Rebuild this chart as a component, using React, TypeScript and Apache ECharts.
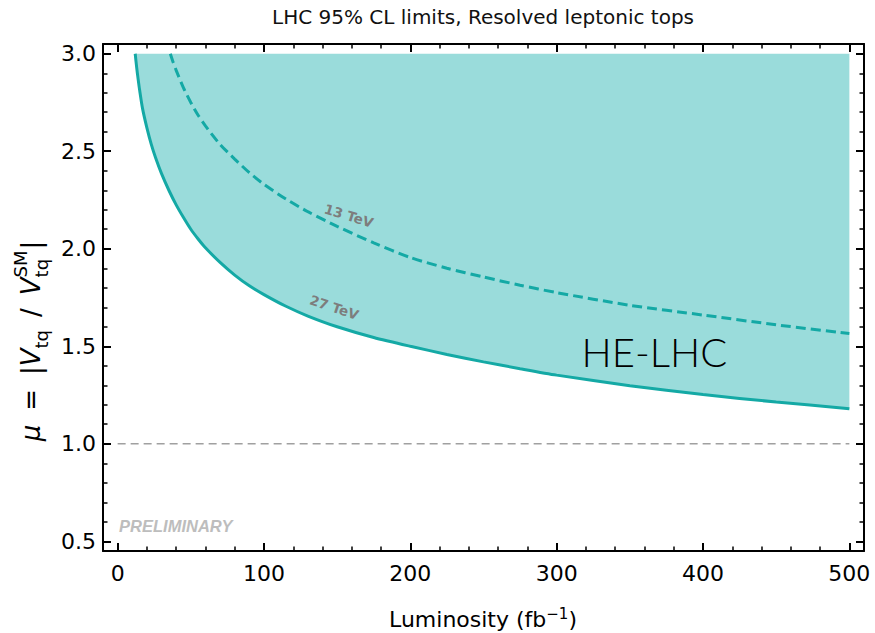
import React, { useEffect, useRef } from 'react';
import * as echarts from 'echarts';

// Expected 95% CL upper limits on mu versus integrated luminosity (fb^-1)
const lumi27 = [12, 13, 14, 15, 17, 20, 23, 26, 30, 35, 40, 45, 50, 55, 60, 70, 80, 90, 100, 115, 130, 150, 175, 200, 225, 250, 275, 300, 350, 400, 450, 500];
const mu27 = [3.0, 2.93, 2.87, 2.815, 2.72, 2.62, 2.535, 2.465, 2.385, 2.3, 2.225, 2.16, 2.1, 2.05, 2.005, 1.93, 1.865, 1.81, 1.765, 1.705, 1.655, 1.6, 1.545, 1.5, 1.458, 1.42, 1.385, 1.352, 1.298, 1.252, 1.214, 1.18];
const lumi13 = [36, 38, 40, 45, 50, 55, 60, 70, 80, 90, 100, 115, 130, 150, 175, 200, 225, 250, 275, 300, 350, 400, 450, 500];
const mu13 = [3.0, 2.955, 2.915, 2.825, 2.75, 2.685, 2.63, 2.535, 2.46, 2.39, 2.33, 2.255, 2.19, 2.115, 2.03, 1.955, 1.9, 1.855, 1.813, 1.775, 1.71, 1.66, 1.61, 1.565];

// Upper edge of the excluded band and the Standard Model reference
const MU_CEIL = 3.0;
const SM_LUMI = [0, 500];
const SM_MU = 1.0;

const X_RANGE = [-10, 510];
const Y_RANGE = [0.45, 3.05];

const TEAL = '#14a9a5';
const BAND = '#9adcdb';
const FONT = 'DejaVu Sans';
const SMOOTH = 0.25;

export default function App() {
  const ref = useRef<HTMLDivElement>(null);

  useEffect(() => {
    document.body.style.margin = '0';
    const el = ref.current as HTMLDivElement;
    const chart = echarts.init(el, null, { renderer: 'svg' });

    const ctx = document.createElement('canvas').getContext('2d') as CanvasRenderingContext2D;
    const measure = (t: string, size: number, style = 'normal') => {
      ctx.font = `${style} ${size}px "${FONT}"`;
      return ctx.measureText(t).width;
    };

    const axisLine = { show: true, onZero: false, lineStyle: { color: '#000', width: 2 } };
    const axisTick = { show: true, inside: true, length: 8, lineStyle: { color: '#000', width: 2 } };
    const minorTick = { show: true, splitNumber: 5, length: 4.5, lineStyle: { color: '#000', width: 1.5 } };
    const tickLabel = {
      fontSize: 22,
      color: '#000',
      fontFamily: FONT,
      showMinLabel: false,
      showMaxLabel: false,
    };

    const line27 = lumi27.map((l, i) => [l, mu27[i]]);
    const line13 = lumi13.map((l, i) => [l, mu13[i]]);

    chart.setOption({
      animation: false,
      grid: { left: 103, right: 11, top: 44, bottom: 82 },
      xAxis: [
        {
          type: 'value', min: X_RANGE[0], max: X_RANGE[1], position: 'bottom',
          axisLine, axisTick, minorTick, splitLine: { show: false },
          axisLabel: { ...tickLabel, margin: 11 },
        },
        {
          type: 'value', min: X_RANGE[0], max: X_RANGE[1], position: 'top',
          axisLine, axisTick, minorTick, splitLine: { show: false },
          axisLabel: { show: false },
        },
      ],
      yAxis: [
        {
          type: 'value', min: Y_RANGE[0], max: Y_RANGE[1], position: 'left',
          axisLine, axisTick, minorTick, splitLine: { show: false },
          axisLabel: { ...tickLabel, margin: 7, formatter: (v: number) => v.toFixed(1) },
        },
        {
          type: 'value', min: Y_RANGE[0], max: Y_RANGE[1], position: 'right',
          axisLine, axisTick, minorTick, splitLine: { show: false },
          axisLabel: { show: false },
        },
      ],
      series: [
        {
          // excluded region: from the 27 TeV limit up to mu = 3
          type: 'line', data: line27, smooth: SMOOTH, showSymbol: false, z: 1,
          lineStyle: { width: 0, opacity: 0 }, areaStyle: { color: BAND, opacity: 1, origin: MU_CEIL },
          silent: true,
        },
        {
          type: 'line', data: SM_LUMI.map((l) => [l, SM_MU]), showSymbol: false, z: 2,
          lineStyle: { color: '#a0a0a0', width: 1.5, type: [8, 5] }, silent: true,
        },
        {
          type: 'line', name: '27 TeV', data: line27, smooth: SMOOTH, showSymbol: false, z: 3,
          lineStyle: { color: TEAL, width: 3 }, silent: true,
        },
        {
          type: 'line', name: '13 TeV', data: line13, smooth: SMOOTH, showSymbol: false, z: 3,
          lineStyle: { color: TEAL, width: 3, type: [10, 5] }, silent: true,
        },
      ],
    });

    const px = (x: number, y: number) => chart.convertToPixel({ gridIndex: 0 }, [x, y]) as number[];
    const p13 = px(158, 2.17);
    const p27 = px(148, 1.7);
    const pHE = px(317, 1.37);
    const pPre = px(1, 0.58);

    // y-axis title: mu = |V_tq / V_tq^SM| laid out along a rotated baseline
    const main = 26;
    const small = 18;
    const parts: any[] = [];
    let cx = 0;
    const put = (t: string, size: number, dy: number, style = 'normal', advance = true) => {
      parts.push({
        type: 'text', x: cx, y: dy,
        style: { text: t, fontSize: size, fontFamily: FONT, fontStyle: style, fill: '#000', textVerticalAlign: 'bottom' },
      });
      const w = measure(t, size, style);
      if (advance) cx += w;
      return w;
    };
    const gap = (g: number) => { cx += g; };
    put('\u03bc', main, 6, 'italic');
    gap(14);
    put('=', main, 6);
    gap(14);
    put('|', main, 6);
    put('V', main, 6, 'italic');
    put('tq', small, 12);
    gap(13);
    put('/', main, 6);
    gap(13);
    put('V', main, 6, 'italic');
    const start = cx;
    const wSub = put('tq', small, 12, 'normal', false);
    cx = start;
    const wSup = put('SM', small, -9, 'normal', false);
    cx = start + Math.max(wSub, wSup) + 1;
    put('|', main, 6);
    const labelLen = cx;

    // x-axis title with superscript
    const xparts: any[] = [];
    let xx = 0;
    const xput = (t: string, size: number, dy: number) => {
      xparts.push({
        type: 'text', x: xx, y: dy,
        style: { text: t, fontSize: size, fontFamily: FONT, fill: '#000', textVerticalAlign: 'bottom' },
      });
      xx += measure(t, size);
    };
    xput('Luminosity (fb', 22, 0);
    xput('\u22121', 15, -9);
    xput(')', 22, 0);
    const xLen = xx;

    chart.setOption({
      graphic: [
        {
          type: 'text', x: 483, y: 17, z: 10,
          style: {
            text: 'LHC 95% CL limits, Resolved leptonic tops', fontSize: 20, fontFamily: FONT,
            fill: '#111', textAlign: 'center', textVerticalAlign: 'middle',
          },
        },
        { type: 'group', x: 38, y: 341 + labelLen / 2, rotation: Math.PI / 2, z: 10, children: parts },
        { type: 'group', x: 483 - xLen / 2, y: 630, z: 10, children: xparts },
        {
          type: 'text', x: p13[0], y: p13[1], rotation: -0.3, z: 10,
          style: {
            text: '13 TeV', fontSize: 13.5, fontWeight: 'bold', fontFamily: FONT, fill: '#7d7d7d',
            textAlign: 'center', textVerticalAlign: 'middle',
          },
        },
        {
          type: 'text', x: p27[0], y: p27[1], rotation: -0.32, z: 10,
          style: {
            text: '27 TeV', fontSize: 13.5, fontWeight: 'bold', fontFamily: FONT, fill: '#7d7d7d',
            textAlign: 'center', textVerticalAlign: 'middle',
          },
        },
        {
          type: 'text', x: pHE[0], y: pHE[1], z: 10,
          style: {
            text: 'HE-LHC', fontSize: 40, fontWeight: 300, fontFamily: 'Lato', fill: '#000',
            textAlign: 'left', textVerticalAlign: 'bottom',
          },
        },
        {
          type: 'text', x: pPre[0], y: pPre[1], z: 10,
          style: {
            text: 'PRELIMINARY', fontSize: 16.5, fontWeight: 'bold', fontStyle: 'italic',
            fontFamily: 'Liberation Sans', fill: '#bdbdbd', textAlign: 'left', textVerticalAlign: 'middle',
          },
        },
      ],
    });

    return () => chart.dispose();
  }, []);

  return <div ref={ref} style={{ width: 875, height: 633 }} />;
}
